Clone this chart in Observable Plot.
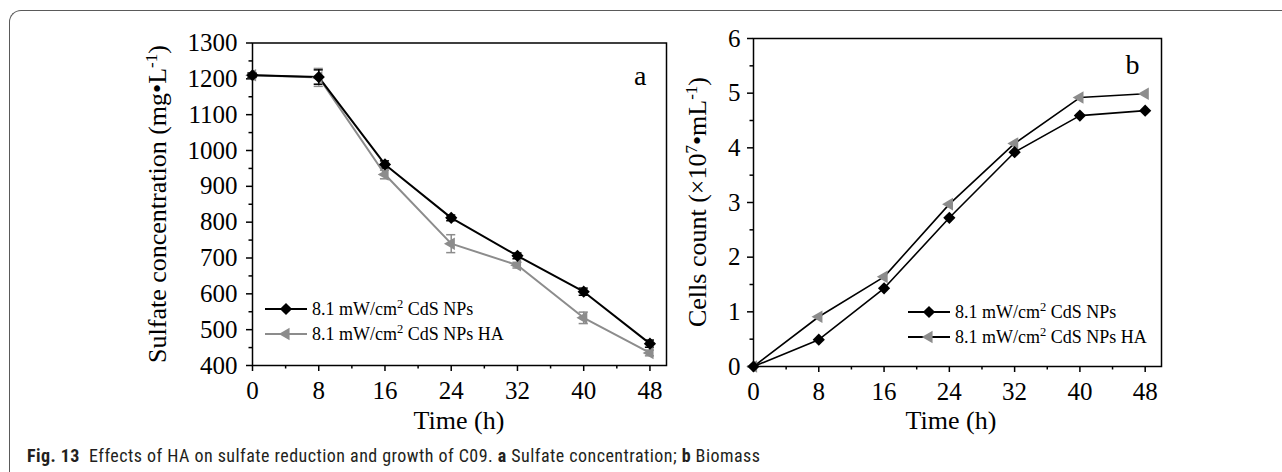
<!DOCTYPE html>
<html>
<head>
<meta charset="utf-8">
<script src="https://cdn.jsdelivr.net/npm/d3@7"></script>
<script src="https://cdn.jsdelivr.net/npm/@observablehq/plot@0.6"></script>
<style>
html,body{margin:0;padding:0;background:#fff;}
#wrap{position:relative;width:1282px;height:472px;overflow:hidden;background:#fff;}
#box{position:absolute;left:9px;top:10px;width:1400px;height:600px;border-top:1.5px solid #5a5a5a;border-left:1.5px solid #5a5a5a;border-top-left-radius:12px;box-sizing:border-box;}
#pa{position:absolute;left:130px;top:0;}
#pb{position:absolute;left:680px;top:0;}
#cap{position:absolute;left:27px;top:447px;font-family:"Liberation Sans Narrow","Roboto Condensed","Open Sans",sans-serif;font-size:18px;letter-spacing:0.45px;line-height:18px;color:#231f20;white-space:nowrap;}
#cap b{font-weight:700;}
</style>
</head>
<body>
<div id="wrap">
  <div id="box"></div>
  <div id="pa"></div>
  <div id="pb"></div>
  <div id="cap"><b>Fig. 13</b>&nbsp; Effects of HA on sulfate reduction and growth of C09. <b>a</b> Sulfate concentration; <b>b</b> Biomass</div>
</div>
<script>
// ---- data ----
const times = [0, 8, 16, 24, 32, 40, 48];
const seriesNames = ["8.1 mW/cm\u00B2 CdS NPs", "8.1 mW/cm\u00B2 CdS NPs HA"];
const sulfateNPs    = [1210, 1205, 961, 812, 706, 606, 461];
const sulfateNPsErr = [6, 20, 10, 8, 8, 10, 10];
const sulfateHA     = [1210, 1204, 933, 740, 680, 533, 435];
const sulfateHAErr  = [6, 25, 12, 25, 8, 16, 8];
const cellsNPs = [0, 0.49, 1.43, 2.72, 3.92, 4.59, 4.68];
const cellsHA  = [0, 0.91, 1.64, 2.97, 4.08, 4.92, 4.99];
const xTicks = [0, 8, 16, 24, 32, 40, 48];
const xMinorTicks = [4, 12, 20, 28, 36, 44];
const sulfateTicks = [400, 500, 600, 700, 800, 900, 1000, 1100, 1200, 1300];
const sulfateMinorTicks = [450, 550, 650, 750, 850, 950, 1050, 1150, 1250];
const cellTicks = [0, 1, 2, 3, 4, 5, 6];
const cellMinorTicks = [0.5, 1.5, 2.5, 3.5, 4.5, 5.5];

const GRAY = "#8c8c8c";
const FONT = "'Liberation Serif','Times New Roman',serif";

const rows = (vals, errs) => times.map((t, i) => ({t, v: vals[i], e: errs ? errs[i] : 0}));
const aNP = rows(sulfateNPs, sulfateNPsErr);
const aHA = rows(sulfateHA, sulfateHAErr);
const bNP = rows(cellsNPs);
const bHA = rows(cellsHA);

function axes(yTicks, yMinor, yPad) {
  return [
    Plot.axisX({ticks: xTicks, tickSize: 6, tickPadding: 10, tickFormat: d => String(d), label: null, strokeWidth: 1.5}),
    Plot.axisX({ticks: xMinorTicks, tickSize: 3.5, tickFormat: () => "", label: null, strokeWidth: 1.5}),
    Plot.axisY({ticks: yTicks, tickSize: 6, tickPadding: yPad, tickFormat: d => String(d), label: null, strokeWidth: 1.5}),
    Plot.axisY({ticks: yMinor, tickSize: 3.5, tickFormat: () => "", label: null, strokeWidth: 1.5})
  ];
}

function errorMarks(data, color) {
  return [
    Plot.ruleX(data, {x: "t", y1: d => d.v - d.e, y2: d => d.v + d.e, stroke: color, strokeWidth: 1.5}),
    Plot.ruleY(data, {y: d => d.v + d.e, x1: d => d.t - 0.55, x2: d => d.t + 0.55, stroke: color, strokeWidth: 1.5}),
    Plot.ruleY(data, {y: d => d.v - d.e, x1: d => d.t - 0.55, x2: d => d.t + 0.55, stroke: color, strokeWidth: 1.5})
  ];
}

function addYTitle(svg, cx, cy, parts) {
  const t = d3.select(svg).append("text")
    .attr("transform", `translate(${cx},${cy}) rotate(-90)`)
    .attr("text-anchor", "middle")
    .attr("dy", "0.35em")
    .attr("font-family", FONT)
    .attr("font-size", 26)
    .attr("fill", "#000");
  parts.forEach(p => {
    const s = t.append("tspan").text(p.text);
    if (p.sup) s.attr("baseline-shift", "super").attr("font-size", 17);
  });
}

function addXTitle(svg, cx, y) {
  d3.select(svg).append("text")
    .attr("x", cx).attr("y", y)
    .attr("text-anchor", "middle")
    .attr("font-family", FONT)
    .attr("font-size", 26)
    .attr("fill", "#000")
    .text("Time (h)");
}

function addLegend(svg, x0, y0, haLineColor) {
  const g = d3.select(svg).append("g").attr("font-family", FONT).attr("font-size", 18).attr("text-anchor", "start");
  const items = [
    {name: seriesNames[0], line: "#000", fill: "#000", sym: d3.symbolDiamond2, rot: 0, size: 95},
    {name: seriesNames[1], line: haLineColor, fill: GRAY, sym: d3.symbolTriangle2, rot: -90, size: 110}
  ];
  items.forEach((it, i) => {
    const y = y0 + i * 25;
    g.append("line").attr("x1", x0).attr("x2", x0 + 42).attr("y1", y).attr("y2", y)
      .attr("stroke", it.line).attr("stroke-width", 2);
    g.append("path").attr("d", d3.symbol(it.sym, it.size)())
      .attr("transform", `translate(${x0 + 21},${y}) rotate(${it.rot})`)
      .attr("fill", it.fill);
    const txt = g.append("text").attr("x", x0 + 47).attr("y", y).attr("dy", "0.32em")
      .attr("text-anchor", "start").attr("fill", "#000");
    const [pre, post] = it.name.split("\u00B2");
    txt.append("tspan").text(pre);
    txt.append("tspan").attr("baseline-shift", "super").attr("font-size", 12.5).text("2");
    txt.append("tspan").text(post);
  });
}

// ---- panel a ----
const plotA = Plot.plot({
  width: 550, height: 440,
  marginLeft: 122, marginRight: 14, marginTop: 42.5, marginBottom: 75,
  x: {domain: [0, 50], axis: null},
  y: {domain: [400, 1300], axis: null},
  style: {fontFamily: FONT, fontSize: "25px", color: "#000", background: "transparent", overflow: "visible"},
  marks: [
    ...axes(sulfateTicks, sulfateMinorTicks, 9),
    ...errorMarks(aHA, GRAY),
    ...errorMarks(aNP, "#000"),
    Plot.line(aHA, {x: "t", y: "v", stroke: GRAY, strokeWidth: 2}),
    Plot.line(aNP, {x: "t", y: "v", stroke: "#000", strokeWidth: 2}),
    Plot.dot(aHA, {x: "t", y: "v", symbol: "triangle2", r: 6, rotate: -90, fill: GRAY, stroke: "none"}),
    Plot.dot(aNP, {x: "t", y: "v", symbol: "diamond2", r: 5.5, fill: "#000", stroke: "none"}),
    Plot.frame({stroke: "#000", strokeWidth: 1.5}),
    Plot.text(["a"], {frameAnchor: "top-right", dx: -20, dy: 33, fontSize: 28, textAnchor: "end", lineAnchor: "middle", fill: "#000"})
  ]
});
document.getElementById("pa").appendChild(plotA);
addYTitle(plotA, 27, 204, [{text: "Sulfate concentration (mg\u2022L"}, {text: "-1", sup: true}, {text: ")"}]);
addXTitle(plotA, 329, 429);
addLegend(plotA, 135, 309, GRAY);

// ---- panel b ----
const plotB = Plot.plot({
  width: 520, height: 440,
  marginLeft: 73, marginRight: 39, marginTop: 38, marginBottom: 74,
  x: {domain: [0, 50], axis: null},
  y: {domain: [0, 6], axis: null},
  style: {fontFamily: FONT, fontSize: "25px", color: "#000", background: "transparent", overflow: "visible"},
  marks: [
    ...axes(cellTicks, cellMinorTicks, 7),
    Plot.line(bHA, {x: "t", y: "v", stroke: "#000", strokeWidth: 1.6}),
    Plot.line(bNP, {x: "t", y: "v", stroke: "#000", strokeWidth: 1.6}),
    Plot.dot(bHA, {x: "t", y: "v", symbol: "triangle2", r: 6, rotate: -90, fill: GRAY, stroke: "none"}),
    Plot.dot(bNP, {x: "t", y: "v", symbol: "diamond2", r: 5.5, fill: "#000", stroke: "none"}),
    Plot.frame({stroke: "#000", strokeWidth: 1.5}),
    Plot.text(["b"], {frameAnchor: "top-right", dx: -22, dy: 27, fontSize: 28, textAnchor: "end", lineAnchor: "middle", fill: "#000"})
  ]
});
document.getElementById("pb").appendChild(plotB);
addYTitle(plotB, 17, 202, [{text: "Cells count (\u00D710"}, {text: "7", sup: true}, {text: "\u2022mL"}, {text: "-1", sup: true}, {text: ")"}]);
addXTitle(plotB, 271, 429);
addLegend(plotB, 228, 312, "#000");
</script>
</body>
</html>
